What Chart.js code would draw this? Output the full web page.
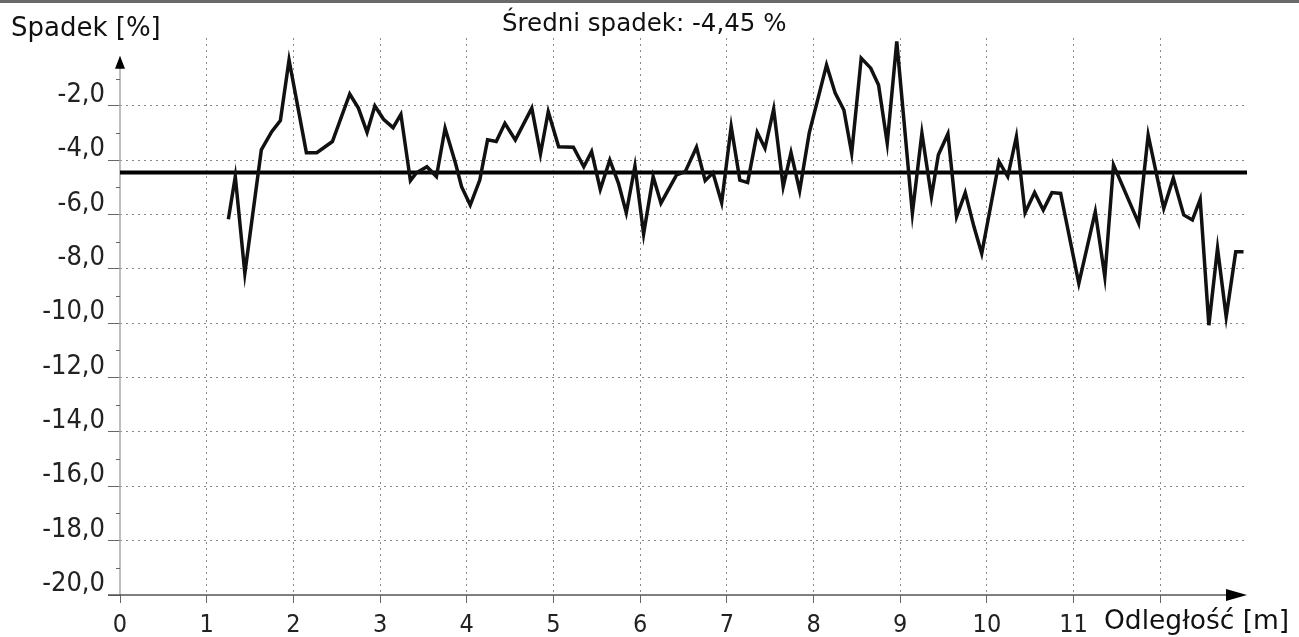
<!DOCTYPE html>
<html>
<head>
<meta charset="utf-8">
<script src="https://cdn.jsdelivr.net/npm/chart.js@4.4.1/dist/chart.umd.min.js"></script>
<style>
  html, body { margin: 0; padding: 0; background: #fff; }
  #wrap { position: relative; width: 1299px; height: 637px; overflow: hidden; }
  #topbar { position: absolute; left: 0; top: 0; width: 1299px; height: 3px; background: #6a6a6a; }
  .lbl { position: absolute; font-family: "DejaVu Sans", sans-serif; color: #111; white-space: nowrap; line-height: 1; }
  #ytitle { left: 11px; top: 14px; font-size: 26px; }
  #title { left: 502px; top: 11px; font-size: 24.5px; }
  #xtitle { left: 1104px; top: 607px; font-size: 26.5px; }
</style>
</head>
<body>
<div id="wrap">
  <canvas id="slopeChart" width="1299" height="637"></canvas>
  <div id="topbar"></div>
  <div class="lbl" id="ytitle">Spadek [%]</div>
  <div class="lbl" id="title">Średni spadek: -4,45 %</div>
  <div class="lbl" id="xtitle">Odległość [m]</div>
</div>
<script>
// distance along the measured section [m]
const distances = [
  1.25, 1.33, 1.44, 1.63, 1.75, 1.85, 1.95, 2.15, 2.27, 2.45,
  2.65, 2.75, 2.85, 2.94, 3.04, 3.15, 3.24, 3.35, 3.42, 3.54,
  3.65, 3.75, 3.87, 3.94, 4.04, 4.15, 4.24, 4.34, 4.44, 4.56,
  4.75, 4.85, 4.94, 5.06, 5.23, 5.35, 5.44, 5.54, 5.65, 5.75,
  5.84, 5.94, 6.04, 6.15, 6.24, 6.42, 6.52, 6.65, 6.75, 6.84,
  6.94, 7.05, 7.15, 7.24, 7.35, 7.44, 7.54, 7.65, 7.74, 7.84,
  7.95, 8.15, 8.25, 8.35, 8.44, 8.55, 8.66, 8.75, 8.85, 8.96,
  9.14, 9.25, 9.36, 9.44, 9.55, 9.65, 9.75, 9.85, 9.94, 10.14,
  10.24, 10.34, 10.44, 10.55, 10.65, 10.75, 10.85, 11.06, 11.25, 11.36,
  11.46, 11.75, 11.86, 12.04, 12.15, 12.27, 12.37, 12.46, 12.56, 12.66,
  12.76, 12.87, 12.96
];
// slope [%]
const slopes = [
  -6.17, -4.6, -8.16, -3.62, -2.95, -2.54, -0.31, -3.72, -3.72, -3.31,
  -1.56, -2.08, -2.97, -2.0, -2.49, -2.8, -2.31, -4.75, -4.46, -4.24,
  -4.6, -2.82, -4.11, -4.97, -5.65, -4.73, -3.25, -3.31, -2.64, -3.25,
  -2.08, -3.77, -2.21, -3.5, -3.52, -4.24, -3.68, -5.07, -3.99, -4.85,
  -5.93, -4.21, -6.71, -4.6, -5.58, -4.54, -4.42, -3.52, -4.75, -4.46,
  -5.56, -2.76, -4.73, -4.82, -2.98, -3.56, -2.12, -4.97, -3.72, -5.12,
  -3.0, -0.49, -1.53, -2.15, -3.74, -0.24, -0.61, -1.23, -3.37, 0.37,
  -5.95, -3.0, -5.34, -3.8, -3.03, -6.08, -5.19, -6.44, -7.43, -4.05,
  -4.6, -3.13, -5.93, -5.19, -5.83, -5.19, -5.22, -8.53, -5.89, -8.29,
  -4.17, -6.32, -3.07, -5.77, -4.66, -6.01, -6.2, -5.44, -10.07, -7.24,
  -9.76, -7.37, -7.37
];
const meanSlope = -4.45;
const meanRange = [0, 13];

const xMin = 0, xMax = 13, xStep = 1;
const yMin = -20, yMax = 0.5, yStep = 2;
const hiddenXLabels = [12, 13];

const tickFont = '"DejaVu Sans Condensed", "Liberation Sans Narrow", "DejaVu Sans", sans-serif';

const slopePoints = distances.map((d, i) => ({ x: d, y: slopes[i] }));
const meanPoints = meanRange.map(d => ({ x: d, y: meanSlope }));

// axis lines, arrows and minor ticks
const axisDecor = {
  id: 'axisDecor',
  beforeDatasetsDraw(chart) {
    const ctx = chart.ctx;
    const xs = chart.scales.x, ys = chart.scales.y;
    const x0 = xs.getPixelForValue(0);
    const yBottom = ys.getPixelForValue(yMin);
    const xEnd = xs.getPixelForValue(xMax);
    ctx.save();
    // y axis
    ctx.strokeStyle = '#a8a8a8';
    ctx.lineWidth = 1.5;
    ctx.beginPath();
    ctx.moveTo(x0, ys.getPixelForValue(-0.4));
    ctx.lineTo(x0, yBottom);
    ctx.stroke();
    // minor ticks on y
    ctx.strokeStyle = '#666';
    ctx.lineWidth = 1;
    for (let v = yMin + 1; v < 0; v += 2) {
      const py = Math.round(ys.getPixelForValue(v)) + 0.5;
      ctx.beginPath();
      ctx.moveTo(x0 - 4, py);
      ctx.lineTo(x0, py);
      ctx.stroke();
    }
    // x axis
    ctx.strokeStyle = '#555';
    ctx.lineWidth = 1.5;
    ctx.beginPath();
    ctx.moveTo(x0 - 12, yBottom);
    ctx.lineTo(xEnd - 10, yBottom);
    ctx.stroke();
    // arrows
    ctx.fillStyle = '#000';
    ctx.beginPath();
    ctx.moveTo(xEnd, yBottom);
    ctx.lineTo(xEnd - 21, yBottom - 6);
    ctx.lineTo(xEnd - 21, yBottom + 6);
    ctx.closePath();
    ctx.fill();
    const yTip = ys.getPixelForValue(-0.15);
    ctx.beginPath();
    ctx.moveTo(x0, yTip);
    ctx.lineTo(x0 - 5, yTip + 13);
    ctx.lineTo(x0 + 5, yTip + 13);
    ctx.closePath();
    ctx.fill();
    ctx.restore();
  }
};

new Chart(document.getElementById('slopeChart').getContext('2d'), {
  type: 'scatter',
  data: {
    datasets: [
      {
        label: 'Spadek',
        data: slopePoints,
        showLine: true,
        borderColor: '#111',
        borderWidth: 3.5,
        pointRadius: 0,
        tension: 0,
        borderJoinStyle: 'miter'
      },
      {
        label: 'Średni spadek',
        data: meanPoints,
        showLine: true,
        borderColor: '#000',
        borderWidth: 4,
        pointRadius: 0
      }
    ]
  },
  options: {
    responsive: false,
    animation: false,
    layout: { padding: { top: 38, right: 52, left: 0, bottom: 0 } },
    plugins: {
      legend: { display: false },
      tooltip: { enabled: false }
    },
    scales: {
      x: {
        type: 'linear',
        min: xMin,
        max: xMax,
        afterFit(scale) { scale.height = 42; },
        ticks: {
          stepSize: xStep,
          padding: 7,
          color: '#222',
          font: { family: tickFont, size: 25 },
          maxRotation: 0,
          autoSkip: false,
          callback: v => hiddenXLabels.includes(v) ? '' : String(v)
        },
        grid: {
          color: ctx => (ctx.tick && (ctx.tick.value === 0 || ctx.tick.value === xMax)) ? 'rgba(0,0,0,0)' : '#888',
          tickColor: ctx => (ctx.tick && ctx.tick.value === xMax) ? 'rgba(0,0,0,0)' : '#666',
          tickLength: 8,
          lineWidth: 1
        },
        border: { display: false, dash: [2, 4] }
      },
      y: {
        type: 'linear',
        min: yMin,
        max: yMax,
        afterFit(scale) { scale.width = 120; },
        afterBuildTicks(scale) {
          scale.ticks = [];
          for (let v = yMin; v < 0; v += yStep) scale.ticks.push({ value: v });
        },
        ticks: {
          stepSize: yStep,
          padding: 3,
          labelOffset: -11,
          color: '#222',
          font: { family: tickFont, size: 27 },
          callback: v => v.toFixed(1).replace('.', ',')
        },
        grid: {
          color: ctx => (ctx.tick && ctx.tick.value === yMin) ? 'rgba(0,0,0,0)' : '#888',
          tickColor: '#666',
          tickLength: 12,
          lineWidth: 1
        },
        border: { display: false, dash: [2, 4] }
      }
    }
  },
  plugins: [axisDecor]
});
</script>
</body>
</html>
